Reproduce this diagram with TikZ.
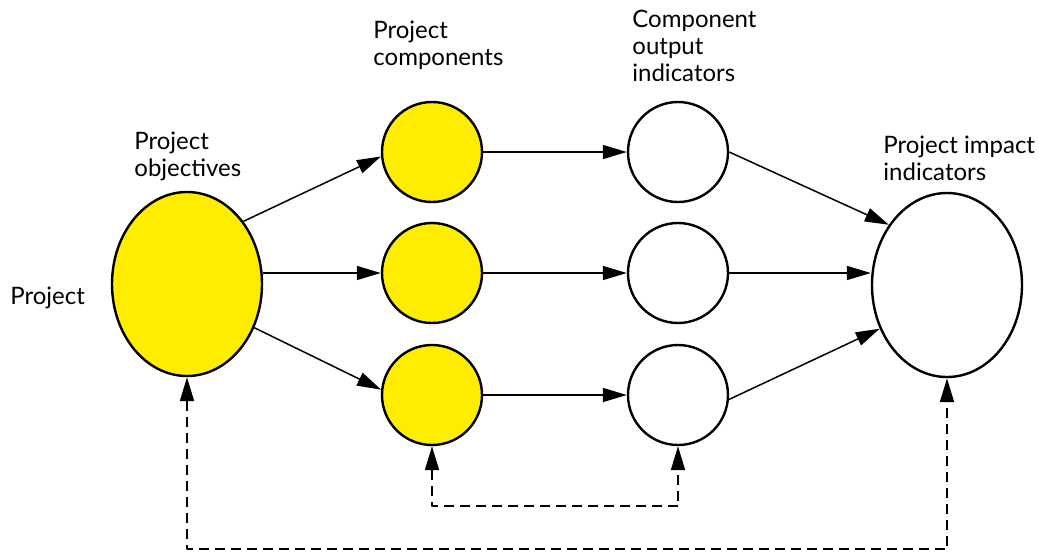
\documentclass[tikz,border=0pt]{standalone}
\usepackage{fontspec}
\setmainfont{Lato}
\usetikzlibrary{shapes.geometric,arrows.meta}
\definecolor{projyellow}{RGB}{255,237,0}
\begin{document}
\begin{tikzpicture}[x=0.5pt,y=-0.5pt,line join=round,font=\fontsize{12}{13.5}\selectfont,
	blob/.style={ellipse,draw,line width=1.2pt,inner sep=0pt},
	bigblob/.style={blob,minimum width=75pt,minimum height=92pt},
	ball/.style={blob,minimum width=50pt,minimum height=50pt},
	lbl/.style={anchor=north west,align=left,inner sep=0pt},
	arr/.style={-{Triangle[length=12pt,width=7pt]},line width=0.75pt},
	darr/.style={{Triangle[length=12pt,width=7pt]}-{Triangle[length=12pt,width=7pt]},line width=0.9pt,dash pattern=on 5pt off 3pt}]
	\useasboundingbox (0,0) rectangle (1039,553);
	%Objectives and impact
	\node[bigblob,fill=projyellow] (obj) at (187,284) {};
	\node[bigblob,fill=white] (impact) at (947,285) {};
	%Components and outputs
	\foreach \i/\y in {1/152,2/273,3/395}{
		\node[ball,fill=projyellow] (comp\i) at (432,\y) {};
		\node[ball,fill=white] (out\i) at (678,\y) {};
	}
	%Labels
	\node[lbl] (lproj) at (10,287) {Project};
	\node[lbl] (lobj) at (134,132) {Project\\objectives};
	\node[lbl] (lcomp) at (373,21) {Project\\components};
	\node[lbl] (lout) at (632,10) {Component\\output\\indicators};
	\node[lbl] (limp) at (883,136) {Project impact\\indicators};
	%Arrows
	\draw[arr] (obj.48) -- (comp1.185.5);
	\draw[arr] (obj.east |- comp2.west) -- (comp2.west);
	\draw[arr] (obj.-33.7) -- (comp3.174.5);
	\foreach \i in {1,2,3}
		\draw[arr] (comp\i.east) -- (out\i.west);
	\draw[arr] (out1.east) -- (impact.134.5);
	\draw[arr] (out2.east) -- (impact.west |- out2.east);
	\draw[arr] (out3.-5.5) -- (impact.213.3);
	%Feedback
	\draw[darr] (comp3.south) -- ++(0,60) -| (out3.south);
	\draw[darr] (obj.south) -- ++(0,172) -| (impact.south);
\end{tikzpicture}
\end{document}
